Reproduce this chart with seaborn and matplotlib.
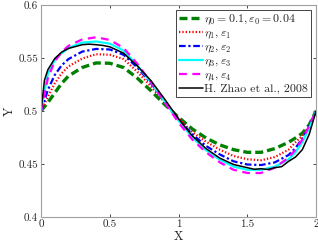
import matplotlib
matplotlib.use("Agg")
import matplotlib.pyplot as plt
import numpy as np
import seaborn as sns

# values
x = [0, 0.05, 0.1, 0.15, 0.2, 0.3, 0.4, 0.5, 0.6, 0.7, 0.8, 0.9, 1.0,
     1.1, 1.2, 1.3, 1.4, 1.5, 1.6, 1.7, 1.8, 1.85, 1.9, 1.95, 2.0]
y_eta0 = [0.5, 0.508, 0.517, 0.526, 0.533, 0.541, 0.5453, 0.545, 0.541, 0.531, 0.519, 0.506, 0.494,
          0.483, 0.4745, 0.468, 0.4635, 0.461, 0.461, 0.4645, 0.4705, 0.4745, 0.479, 0.487, 0.5]
y_eta1 = [0.5, 0.5135, 0.526, 0.5355, 0.542, 0.5495, 0.5535, 0.553, 0.549, 0.537, 0.523, 0.508, 0.493,
          0.48, 0.471, 0.4635, 0.4575, 0.4545, 0.4535, 0.4565, 0.4635, 0.4705, 0.4765, 0.486, 0.5]
y_eta2 = [0.5, 0.52, 0.534, 0.543, 0.549, 0.556, 0.5585, 0.558, 0.553, 0.541, 0.526, 0.509, 0.492,
          0.478, 0.467, 0.459, 0.4525, 0.4495, 0.449, 0.4515, 0.4585, 0.465, 0.474, 0.4855, 0.5]
y_eta3 = [0.5, 0.5355, 0.548, 0.5545, 0.5595, 0.5645, 0.5655, 0.5635, 0.557, 0.543, 0.527, 0.509, 0.491,
          0.475, 0.463, 0.454, 0.4475, 0.4445, 0.4445, 0.4475, 0.4545, 0.461, 0.4705, 0.4835, 0.5]
y_eta4 = [0.5, 0.531, 0.547, 0.5555, 0.5615, 0.5675, 0.5695, 0.567, 0.5595, 0.5445, 0.527, 0.508, 0.489,
          0.473, 0.461, 0.4515, 0.4445, 0.4415, 0.4415, 0.4465, 0.456, 0.4635, 0.473, 0.486, 0.5]

x_zhao = [0, 0.025, 0.05, 0.1, 0.15, 0.2, 0.3, 0.35, 0.4, 0.45, 0.5, 0.55, 0.6, 0.7, 0.8, 0.9, 1.0,
          1.1, 1.2, 1.3, 1.4, 1.5, 1.55, 1.6, 1.65, 1.7, 1.75, 1.8, 1.85, 1.9, 1.95, 2.0]
y_zhao = [0.5, 0.529, 0.539, 0.5495, 0.5555, 0.559, 0.5625, 0.563, 0.5625, 0.5618, 0.5605, 0.5575,
          0.5545, 0.5425, 0.5285, 0.511, 0.4925, 0.4765, 0.4645, 0.4555, 0.4495, 0.4465, 0.445,
          0.4455, 0.4448, 0.4465, 0.4475, 0.4525, 0.4565, 0.4635, 0.478, 0.5]

labels = [r"$\eta_0 = 0.1, \varepsilon_0 = 0.04$", r"$\eta_1, \varepsilon_1$",
          r"$\eta_2, \varepsilon_2$", r"$\eta_3, \varepsilon_3$", r"$\eta_4, \varepsilon_4$",
          "H. Zhao et al., 2008"]

sns.set_style("ticks")
plt.rcParams["font.family"] = ["cmr10", "DejaVu Serif"]
plt.rcParams["mathtext.fontset"] = "cm"
plt.rcParams["axes.unicode_minus"] = False
plt.rcParams["axes.formatter.use_mathtext"] = True

fig = plt.figure(figsize=(3.18, 2.47), dpi=100)
ax = fig.add_axes([0.129, 0.1215, 0.865, 0.8585])

sns.lineplot(x=x, y=y_eta0, ax=ax, color="green", lw=2.4,
             linestyle=(0, (2.4, 1.2)), label=labels[0])
sns.lineplot(x=x, y=y_eta1, ax=ax, color="red", lw=1.6, linestyle=(0, (0.6, 0.9)),
             label=labels[1])
sns.lineplot(x=x, y=y_eta2, ax=ax, color="blue", lw=1.6, linestyle=(0, (3, 1.2, 1, 1.2)),
             label=labels[2])
sns.lineplot(x=x, y=y_eta3, ax=ax, color="cyan", lw=1.6, linestyle="-", label=labels[3])
sns.lineplot(x=x, y=y_eta4, ax=ax, color="magenta", lw=1.6, linestyle=(0, (3.5, 2.5)),
             label=labels[4])
sns.lineplot(x=x_zhao, y=y_zhao, ax=ax, color="black", lw=1.1, linestyle="-", label=labels[5])

ax.set_xlim(0, 2)
ax.set_ylim(0.4, 0.6)
ax.set_xticks([0, 0.5, 1, 1.5, 2])
ax.set_xticklabels(["0", "0.5", "1", "1.5", "2"])
ax.set_yticks([0.4, 0.45, 0.5, 0.55, 0.6])
ax.set_yticklabels(["0.4", "0.45", "0.5", "0.55", "0.6"])
ax.tick_params(direction="in", top=True, right=True, labelsize=8, length=2.5,
               width=0.6, colors="#262626", pad=2)
for s in ax.spines.values():
    s.set_visible(True)
    s.set_color("#a0a0a0")
    s.set_linewidth(0.8)
ax.set_xlabel("X", fontsize=9, labelpad=1)
ax.set_ylabel("Y", fontsize=9, labelpad=2)

leg = ax.legend(loc="upper right", fontsize=8.6, fancybox=False, framealpha=1,
                edgecolor="#262626", handlelength=2.0, handletextpad=0.15,
                borderpad=0.25, labelspacing=0.08, borderaxespad=0.4)
leg.get_frame().set_linewidth(0.6)

fig.savefig("out.png", dpi=100)
